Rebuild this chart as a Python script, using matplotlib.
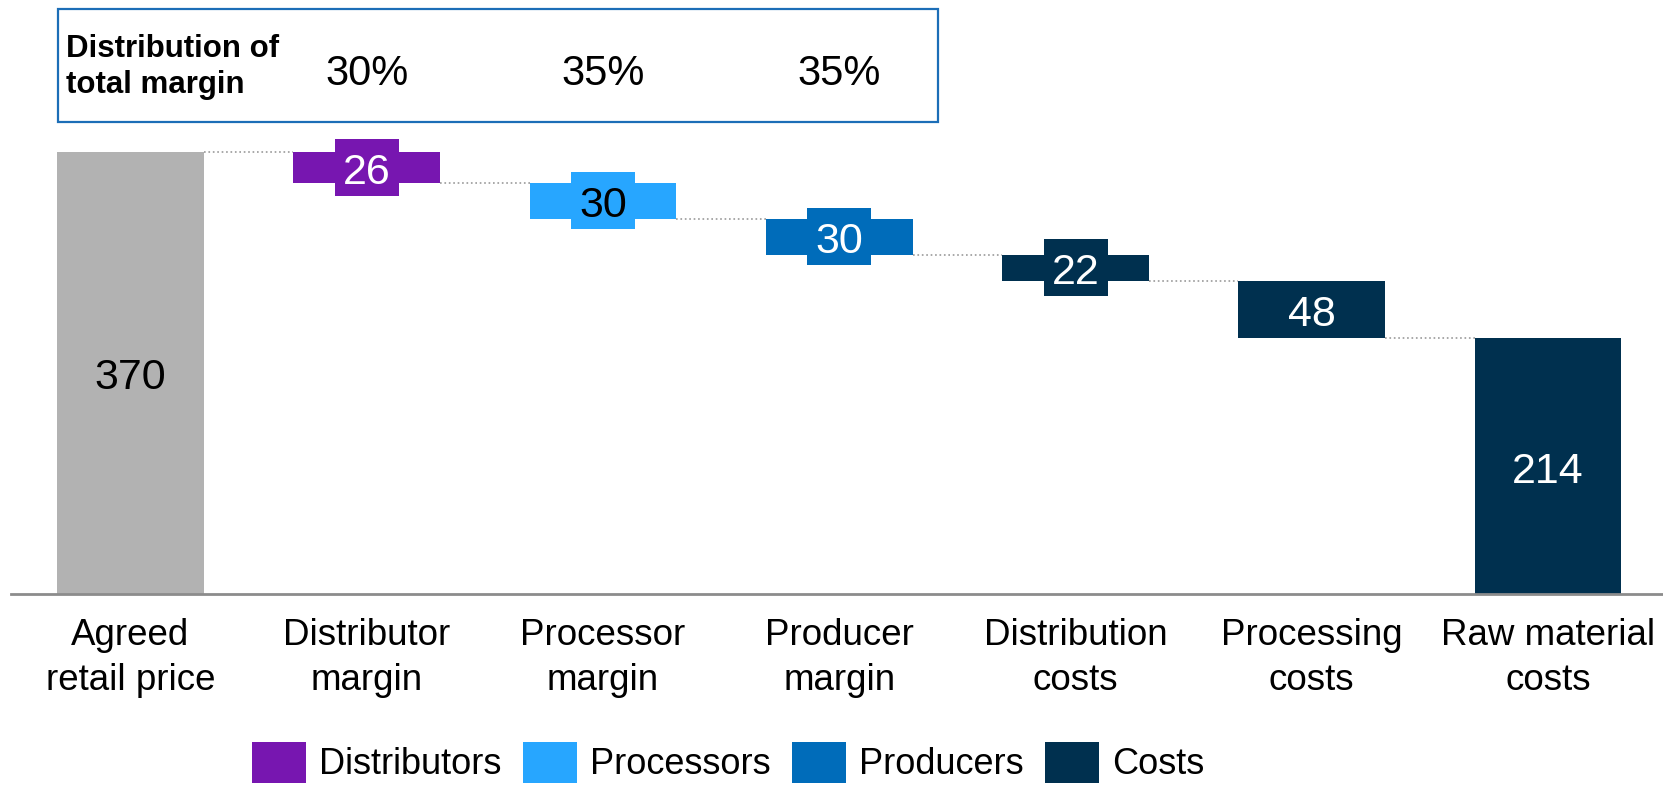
import matplotlib
matplotlib.use('Agg')
import matplotlib.pyplot as plt
from matplotlib.patches import Rectangle, Patch
from matplotlib.transforms import blended_transform_factory, offset_copy

plt.rcParams['font.family'] = ['Liberation Sans', 'DejaVu Sans']

# data
categories = ['Agreed\nretail price', 'Distributor\nmargin', 'Processor\nmargin', 'Producer\nmargin',
              'Distribution\ncosts', 'Processing\ncosts', 'Raw material\ncosts']
values = [370, 26, 30, 30, 22, 48, 214]
groups = ['Total', 'Distributors', 'Processors', 'Producers', 'Costs', 'Costs', 'Costs']
margin_share = ['30%', '35%', '35%']
legend_groups = ['Distributors', 'Processors', 'Producers', 'Costs']

colors = {'Total': '#B2B2B2', 'Distributors': '#7716B0', 'Processors': '#27A6FF',
          'Producers': '#006CBA', 'Costs': '#00304F'}
text_colors = {'Total': 'black', 'Distributors': 'white', 'Processors': 'black',
               'Producers': 'white', 'Costs': 'white'}

# waterfall levels
bottoms = []
level = values[0]
for i, v in enumerate(values):
    if i == 0 or i == len(values) - 1:
        bottoms.append(0)
    else:
        level -= v
        bottoms.append(level)
tops = [b + v for b, v in zip(bottoms, values)]

W, H = 1663, 785
fig = plt.figure(figsize=(W / 100, H / 100), dpi=100)
px_unit = 236.25
x0_px = 130.5
y_scale = 1.195  # px per value unit
ax_left = 11
ax_bottom = 594
ax = fig.add_axes([ax_left / W, 1 - ax_bottom / H, 1 - ax_left / W, 400 * y_scale / H])
ax.set_xlim((ax_left - x0_px) / px_unit, (W - x0_px) / px_unit)
ax.set_ylim(0, 400)

bar_w = 0.622
xs = list(range(len(values)))
ax.bar(xs, values, bottom=bottoms, width=bar_w, color=[colors[g] for g in groups], zorder=2)

# connectors
for i in range(len(values) - 1):
    ax.plot([i + bar_w / 2, i + 1 - bar_w / 2], [tops[i + 1], tops[i + 1]],
            ls=':', color='#9A9A9A', lw=1.2, zorder=1)

# value labels with boxes
box_w = 64 / px_unit
box_h = 57 / y_scale
label_trans = offset_copy(ax.transData, fig=fig, x=0, y=-4, units='points')
for i, (v, b, g) in enumerate(zip(values, bottoms, groups)):
    yc = b + v / 2
    ax.add_patch(Rectangle((i - box_w / 2, yc - box_h / 2), box_w, box_h,
                           facecolor=colors[g], edgecolor='none', zorder=3))
    ax.text(i, yc, str(v), ha='center', va='center', fontsize=31, color=text_colors[g],
            zorder=4, transform=label_trans)

# axes styling
for s in ['top', 'right', 'left']:
    ax.spines[s].set_visible(False)
ax.spines['bottom'].set_color('#8C8C8C')
ax.spines['bottom'].set_linewidth(2)
ax.set_yticks([])
ax.set_xticks(xs)
ax.set_xticklabels(categories, fontsize=26.5, linespacing=1.38)
ax.tick_params(axis='x', length=0, pad=17)

# top box with distribution of total margin
fig.patches.append(Rectangle((58 / W, 1 - 122 / H), (938 - 58) / W, (122 - 8.5) / H,
                             transform=fig.transFigure, fill=False, edgecolor='#1C6EB7', lw=1.6))
fig.text(66 / W, 1 - 67 / H, 'Distribution of\ntotal margin', ha='left', va='center',
         fontsize=22.5, fontweight='bold', linespacing=1.28)
trans = blended_transform_factory(ax.transData, fig.transFigure)
for i, s in enumerate(margin_share):
    ax.text(i + 1, 1 - 74 / H, s, transform=trans, ha='center', va='center', fontsize=30)

# legend
handles = [Patch(facecolor=colors[g], edgecolor='none') for g in legend_groups]
fig.legend(handles, legend_groups, loc='upper center', bbox_to_anchor=(728 / W, 1 - 742 / H),
           ncol=4, frameon=False, fontsize=26, handlelength=1.5, handleheight=1.35,
           handletextpad=0.35, columnspacing=0.6, borderpad=0, borderaxespad=0)

fig.savefig('out.png', dpi=100)
